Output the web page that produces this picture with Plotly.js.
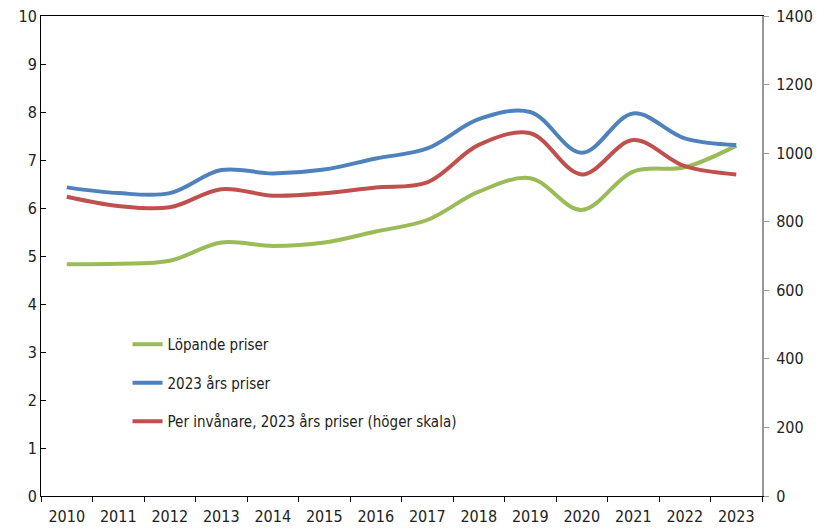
<!DOCTYPE html>
<html>
<head>
<meta charset="utf-8">
<script src="https://cdn.plot.ly/plotly-3.0.1.min.js"></script>
<style>html,body{margin:0;padding:0;background:#fff;}#chart{width:817px;height:530px;}</style>
</head>
<body>
<div id="chart"></div>
<script>
var years = ['2010','2011','2012','2013','2014','2015','2016','2017','2018','2019','2020','2021','2022','2023'];
var lopandePriser = [4.83, 4.84, 4.90, 5.28, 5.21, 5.28, 5.51, 5.75, 6.34, 6.62, 5.96, 6.76, 6.85, 7.30];
var fastaPriser2023 = [6.43, 6.31, 6.31, 6.79, 6.72, 6.80, 7.03, 7.24, 7.85, 8.00, 7.15, 7.97, 7.45, 7.31];
var perInvanare = [873, 846, 842, 895, 876, 883, 900, 915, 1024, 1058, 938, 1038, 962, 938];
var seriesNames = ['Löpande priser', '2023 års priser', 'Per invånare, 2023 års priser (höger skala)'];
var leftTicks = [0,1,2,3,4,5,6,7,8,9,10];
var rightTicks = [0,200,400,600,800,1000,1200,1400];

var FONT = '"DejaVu Sans Condensed", "Liberation Sans Narrow", sans-serif';
var FS = 16;

var traces = [
  {x: years, y: lopandePriser, name: seriesNames[0], type: 'scatter', mode: 'lines',
   line: {color: '#9BBB59', width: 4, shape: 'spline', smoothing: 1}, legendgroup: 'a'},
  {x: years, y: fastaPriser2023, name: seriesNames[1], type: 'scatter', mode: 'lines',
   line: {color: '#4F81BD', width: 4, shape: 'spline', smoothing: 1}, legendgroup: 'b'},
  {x: years, y: perInvanare, name: seriesNames[2], type: 'scatter', mode: 'lines', yaxis: 'y2',
   line: {color: '#C0504D', width: 4, shape: 'spline', smoothing: 1}, legendgroup: 'c'}
];

var layout = {
  width: 817, height: 530,
  margin: {l: 41, r: 55, t: 16, b: 34},
  paper_bgcolor: '#fff', plot_bgcolor: '#fff',
  font: {family: FONT, size: FS, color: '#222'},
  showlegend: true,
  legend: {x: 0.12, y: 0.35, xanchor: 'left', yanchor: 'top', bgcolor: 'rgba(0,0,0,0)',
           font: {family: FONT, size: 15, color: '#222'}, tracegroupgap: 16, traceorder: 'grouped'},
  xaxis: {type: 'category', range: [-0.5, 13.5], tickson: 'boundaries', ticks: 'outside', ticklen: 5,
          tickcolor: '#000', showline: true, linecolor: '#000', linewidth: 1, mirror: true,
          ticklabelstandoff: 6,
          showgrid: false, zeroline: false, tickfont: {family: FONT, size: FS, color: '#222'}},
  yaxis: {range: [0, 10], tickvals: leftTicks, ticks: 'inside', ticklen: 5, tickcolor: '#000',
          showline: true, linecolor: '#000', linewidth: 1, showgrid: false, zeroline: false,
          tickfont: {family: FONT, size: FS, color: '#222'}},
  yaxis2: {range: [0, 1400], tickvals: rightTicks, overlaying: 'y', side: 'right', ticks: 'outside',
           ticklen: 5, tickcolor: '#999', showline: true, linecolor: '#999', linewidth: 2,
           ticklabelstandoff: 4,
           showgrid: false, zeroline: false, tickfont: {family: FONT, size: FS, color: '#222'}}
};

Plotly.newPlot('chart', traces, layout, {displayModeBar: false, staticPlot: true});
</script>
</body>
</html>
